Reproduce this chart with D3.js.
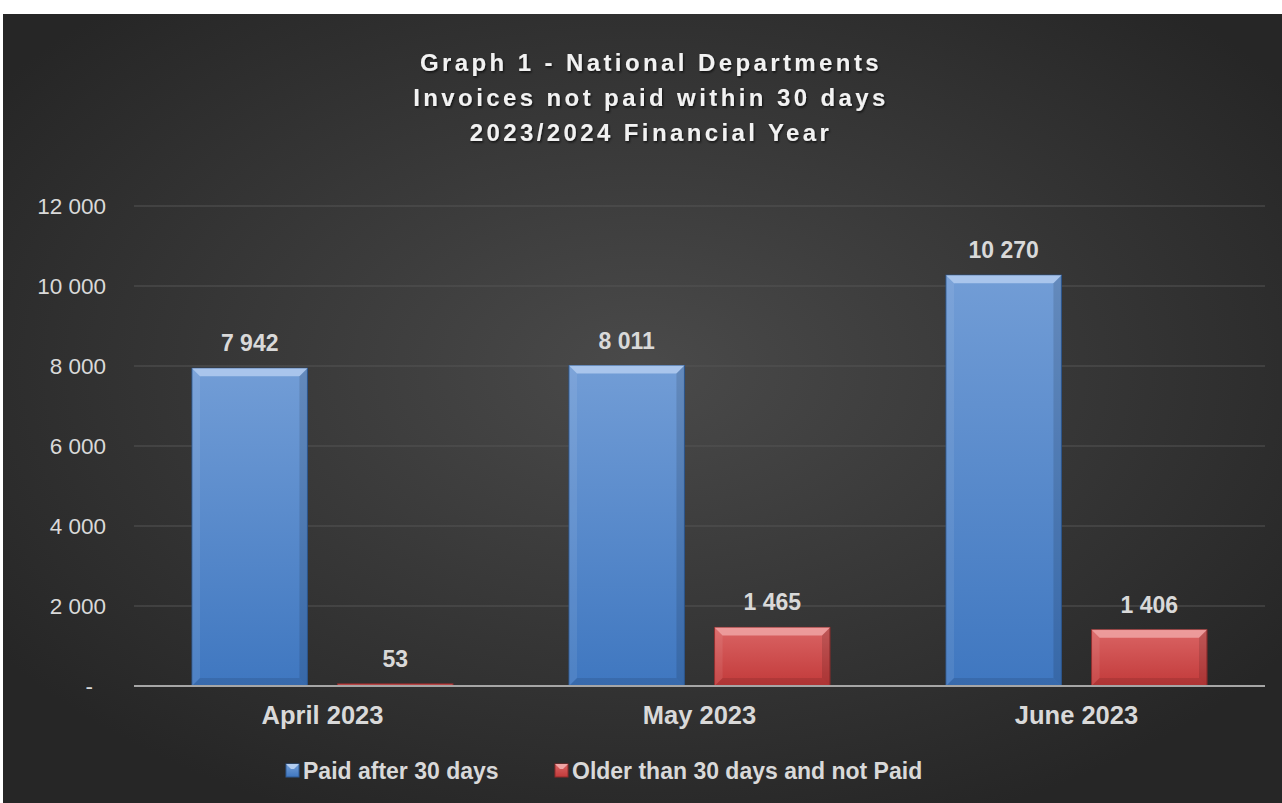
<!DOCTYPE html>
<html>
<head>
  <meta charset="utf-8">
  <title>Graph 1 - National Departments</title>
  <script src="https://cdn.jsdelivr.net/npm/d3@7"></script>
  <style>
    body { margin: 0; background: #fff; }
    svg { display: block; font-family: "Liberation Sans", Arial, sans-serif; }
  </style>
</head>
<body>
  <div class="chart"></div>
  <script>
    var months = ['April 2023', 'May 2023', 'June 2023'];
    var paidLate = [7942, 8011, 10270];
    var olderUnpaid = [53, 1465, 1406];
    var seriesNames = ['Paid after 30 days', 'Older than 30 days and not Paid'];
    var yTicks = [0, 2000, 4000, 6000, 8000, 10000, 12000];
    var titleLines = [
      'Graph 1 - National Departments',
      'Invoices not paid within 30 days',
      '2023/2024 Financial Year'
    ];

    var W = 1282, H = 803;
    var margin = { top: 206, right: 17, bottom: 117, left: 134 };
    var innerW = W - margin.left - margin.right;
    var innerH = H - margin.top - margin.bottom;

    // space separated thousands, zero shown as dash
    function fmt(v) {
      if (v === 0) return '-';
      return d3.format(',')(v).replace(/,/g, ' ');
    }

    var svg = d3.select('.chart').append('svg')
      .attr('width', W)
      .attr('height', H);

    var defs = svg.append('defs');

    var bg = defs.append('radialGradient')
      .attr('id', 'bg')
      .attr('cx', '50%').attr('cy', '45%').attr('r', '62%');
    bg.append('stop').attr('offset', '0%').attr('stop-color', '#4a4a4a');
    bg.append('stop').attr('offset', '100%').attr('stop-color', '#262626');

    var palettes = [
      { id: 'blue', top: '#729dd6', bottom: '#3f77c0', bevel: '#b3cdf0', edge: '#2f5a94' },
      { id: 'red', top: '#da6464', bottom: '#c23a3a', bevel: '#f0a5a5', edge: '#8e2a2a' }
    ];
    palettes.forEach(function (p) {
      var g = defs.append('linearGradient')
        .attr('id', 'grad-' + p.id)
        .attr('x1', 0).attr('y1', 0).attr('x2', 0).attr('y2', 1);
      g.append('stop').attr('offset', '0%').attr('stop-color', p.top);
      g.append('stop').attr('offset', '100%').attr('stop-color', p.bottom);
    });

    var shadow = defs.append('filter').attr('id', 'tshadow')
      .attr('x', '-10%').attr('y', '-30%').attr('width', '120%').attr('height', '160%');
    shadow.append('feDropShadow')
      .attr('dx', 1).attr('dy', 1.5).attr('stdDeviation', 1.2)
      .attr('flood-color', '#000').attr('flood-opacity', 0.7);

    svg.append('rect')
      .attr('x', 3).attr('y', 14)
      .attr('width', W - 3).attr('height', H - 14)
      .attr('fill', 'url(#bg)');

    // title
    svg.append('g')
      .selectAll('text')
      .data(titleLines)
      .join('text')
      .attr('x', 651)
      .attr('y', function (d, i) { return 71 + i * 35; })
      .attr('text-anchor', 'middle')
      .attr('font-size', 24)
      .attr('font-weight', 'bold')
      .attr('letter-spacing', 3.4)
      .attr('fill', '#f2f2f2')
      .attr('filter', 'url(#tshadow)')
      .text(function (d) { return d; });

    var g = svg.append('g')
      .attr('transform', 'translate(' + margin.left + ',' + margin.top + ')');

    var x0 = d3.scaleBand()
      .domain(months)
      .range([0, innerW]);

    // two bars of ~115px with a 30px gap, centred in each month band
    var x1 = d3.scaleBand()
      .domain([0, 1])
      .range([58, x0.bandwidth() - 58])
      .paddingInner(30 / 145);

    var y = d3.scaleLinear()
      .domain([0, 12000])
      .range([innerH, 0]);

    // gridlines
    g.append('g')
      .selectAll('line')
      .data(yTicks.slice(1))
      .join('line')
      .attr('x1', 0).attr('x2', innerW)
      .attr('y1', function (d) { return y(d); })
      .attr('y2', function (d) { return y(d); })
      .attr('stroke', '#555')
      .attr('stroke-width', 1);

    // y axis labels
    var yAxis = d3.axisLeft(y)
      .tickValues(yTicks)
      .tickSize(0)
      .tickPadding(28)
      .tickFormat(fmt);
    var yG = g.append('g').call(yAxis);
    yG.select('.domain').remove();
    yG.selectAll('text')
      .attr('font-size', 22.5)
      .attr('font-family', '"Liberation Sans", Arial, sans-serif')
      .attr('fill', '#d9d9d9')
      .attr('dx', function (d) { return d === 0 ? -13 : 0; });

    var series = [paidLate, olderUnpaid];

    var groups = g.append('g')
      .selectAll('g')
      .data(months)
      .join('g')
      .attr('transform', function (d) { return 'translate(' + x0(d) + ',0)'; });

    groups.each(function (m, mi) {
      var grp = d3.select(this);
      series.forEach(function (s, si) {
        var p = palettes[si];
        var v = s[mi];
        var bx = x1(si), bw = x1.bandwidth();
        var by = y(v), bh = innerH - by;
        var bev = Math.min(8, bh / 2, bw / 2);
        var bar = grp.append('g');
        bar.append('rect')
          .attr('x', bx).attr('y', by)
          .attr('width', bw).attr('height', bh)
          .attr('fill', 'url(#grad-' + p.id + ')')
          .attr('stroke', p.edge)
          .attr('stroke-width', 1);
        if (bh > 3) {
          // bevel: top, left, right, bottom
          bar.append('path')
            .attr('d', 'M' + bx + ',' + by + 'L' + (bx + bw) + ',' + by +
              'L' + (bx + bw - bev) + ',' + (by + bev) + 'L' + (bx + bev) + ',' + (by + bev) + 'Z')
            .attr('fill', p.bevel).attr('opacity', 0.85);
          bar.append('path')
            .attr('d', 'M' + bx + ',' + by + 'L' + (bx + bev) + ',' + (by + bev) +
              'L' + (bx + bev) + ',' + (by + bh - bev) + 'L' + bx + ',' + (by + bh) + 'Z')
            .attr('fill', '#fff').attr('opacity', 0.08);
          bar.append('path')
            .attr('d', 'M' + (bx + bw) + ',' + by + 'L' + (bx + bw - bev) + ',' + (by + bev) +
              'L' + (bx + bw - bev) + ',' + (by + bh - bev) + 'L' + (bx + bw) + ',' + (by + bh) + 'Z')
            .attr('fill', '#000').attr('opacity', 0.12);
          bar.append('path')
            .attr('d', 'M' + bx + ',' + (by + bh) + 'L' + (bx + bev) + ',' + (by + bh - bev) +
              'L' + (bx + bw - bev) + ',' + (by + bh - bev) + 'L' + (bx + bw) + ',' + (by + bh) + 'Z')
            .attr('fill', '#000').attr('opacity', 0.1);
        }
        grp.append('text')
          .attr('x', bx + bw / 2)
          .attr('y', by - 17)
          .attr('text-anchor', 'middle')
          .attr('font-size', 23)
          .attr('font-weight', 'bold')
          .attr('fill', '#d9d9d9')
          .text(fmt(v));
      });
    });

    // x axis line
    g.append('line')
      .attr('x1', 0).attr('x2', innerW)
      .attr('y1', innerH).attr('y2', innerH)
      .attr('stroke', '#a6a6a6')
      .attr('stroke-width', 2);

    // category labels
    g.append('g')
      .selectAll('text')
      .data(months)
      .join('text')
      .attr('x', function (d) { return x0(d) + x0.bandwidth() / 2; })
      .attr('y', innerH + 38)
      .attr('text-anchor', 'middle')
      .attr('font-size', 25.5)
      .attr('font-weight', 'bold')
      .attr('fill', '#d9d9d9')
      .text(function (d) { return d; });

    // legend
    var legendX = [286, 555];
    var leg = svg.append('g')
      .selectAll('g')
      .data(seriesNames)
      .join('g')
      .attr('transform', function (d, i) { return 'translate(' + legendX[i] + ',764)'; });
    leg.append('rect')
      .attr('width', 13).attr('height', 13)
      .attr('fill', function (d, i) { return 'url(#grad-' + palettes[i].id + ')'; })
      .attr('stroke', function (d, i) { return palettes[i].edge; });
    leg.append('path')
      .attr('d', 'M0,0L13,0L8,5L5,5Z')
      .attr('fill', function (d, i) { return palettes[i].bevel; });
    leg.append('text')
      .attr('x', 17)
      .attr('y', 15)
      .attr('font-size', 23)
      .attr('font-weight', 'bold')
      .attr('fill', '#d9d9d9')
      .text(function (d) { return d; });
  </script>
</body>
</html>
